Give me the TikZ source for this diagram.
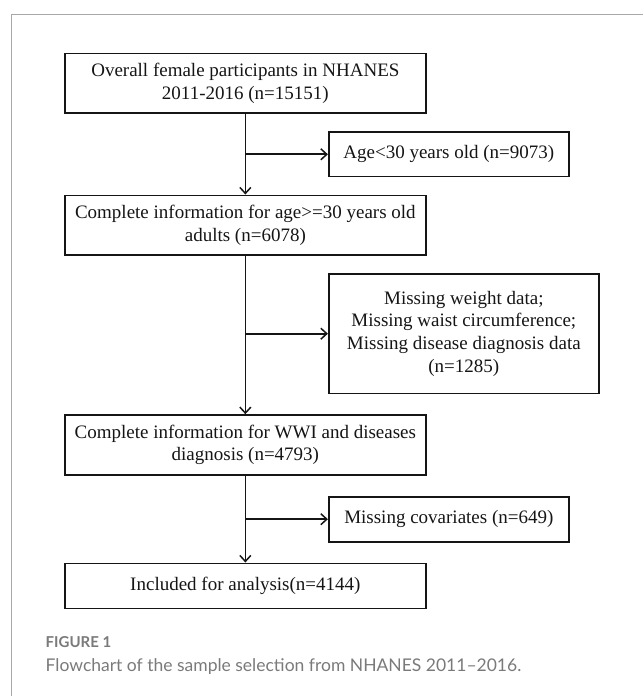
\documentclass[tikz,border=0pt]{standalone}
\usepackage{fontspec}
\setmainfont{Liberation Serif}
\newfontfamily\capfont{Lato}
\usetikzlibrary{arrows.meta}
\definecolor{frame}{HTML}{A8A8A8}
\definecolor{capgray}{HTML}{7A7A7A}
\definecolor{ink}{HTML}{151515}
\tikzset{
  boxnode/.style={draw=ink, line width=1.6pt, rectangle, inner sep=0pt, align=center,
    font=\fontsize{19}{22.7}\selectfont, text=ink},
  flow/.style={draw=ink, line width=1.7pt, -{Straight Barb[length=6pt,width=11pt,line width=1.5pt]}}
}
\begin{document}
\begin{tikzpicture}[x=1pt,y=-1pt]
\useasboundingbox (0,0) rectangle (643,696);
% card frame (open at right and bottom)
\draw[frame, line width=1pt] (11,696) -- (11,14) -- (643,14);

% main column boxes
\node[boxnode, minimum width=360.7pt, minimum height=59.4pt] (b1) at (245.35,83) {Overall female participants in NHANES\\2011-2016 (n=15151)};
\node[boxnode, minimum width=360.7pt, minimum height=59.7pt] (b3) at (245.35,225.15) {Complete information for age>=30 years old\\adults (n=6078)};
\node[boxnode, minimum width=360.7pt, minimum height=60pt] (b5) at (245.35,445) {Complete information for WWI and diseases\\diagnosis (n=4793)};
\node[boxnode, minimum width=360.7pt, minimum height=45pt] (b7) at (245.35,585.8) {Included for analysis(n=4144)};

% exclusion boxes
\node[boxnode, minimum width=240.3pt, minimum height=44.7pt] (b2) at (448.85,154.3) {Age<30 years old (n=9073)};
\node[boxnode, minimum width=270.3pt, minimum height=119.3pt] (b4) at (463.85,333.7) {Missing weight data;\\Missing waist circumference;\\Missing disease diagnosis data\\(n=1285)};
\node[boxnode, minimum width=240.3pt, minimum height=45pt] (b6) at (448.85,519.2) {Missing covariates (n=649)};

% junction points on the main line
\coordinate (j1) at (245.35,154.3);
\coordinate (j2) at (245.35,333.7);
\coordinate (j3) at (245.35,519.2);

% connectors
\draw[flow] (b1.south) -- (b3.north);
\draw[flow] (b3.south) -- (b5.north);
\draw[flow] (b5.south) -- (b7.north);
\draw[flow] (j1) -- (b2.west);
\draw[flow] (j2) -- (b4.west);
\draw[flow] (j3) -- (b6.west);

% caption
\node[anchor=base west, inner sep=0pt, text=capgray, font=\capfont\bfseries\fontsize{15}{18}\selectfont] (fig) at (45.5,647.7) {FIGURE 1};
\node[anchor=base west, inner sep=0pt, text=capgray, font=\capfont\fontsize{17.5}{21}\selectfont] (cap) at (45.5,671) {Flowchart of the sample selection from NHANES 2011–2016.};
\end{tikzpicture}
\end{document}
